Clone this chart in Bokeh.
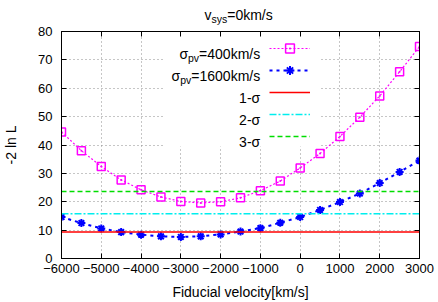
from bokeh.plotting import figure
from bokeh.layouts import column
from bokeh.models import (Range1d, LinearAxis, FixedTicker, Legend, LegendItem, Label,
                          BoxAnnotation, CustomJSTickFormatter, Div)
from bokeh.embed import file_html
from bokeh.resources import INLINE

# ---------------- data ----------------
velocity = [-6000, -5500, -5000, -4500, -4000, -3500, -3000, -2500, -2000, -1500,
            -1000, -500, 0, 500, 1000, 1500, 2000, 2500, 3000]
chi2_sigma400 = [44.6, 38.0, 32.4, 27.7, 24.2, 21.7, 20.1, 19.6, 20.0, 21.4,
                 23.9, 27.3, 31.9, 37.0, 43.0, 49.8, 57.3, 65.8, 74.7]
chi2_sigma1600 = [14.6, 12.5, 10.6, 9.3, 8.4, 7.8, 7.6, 7.8, 8.5, 9.5,
                  10.7, 12.6, 14.6, 17.1, 19.9, 22.9, 26.6, 30.5, 34.5]
sigma_levels = [9.3, 15.75, 23.6]
sigma_names = ["1-σ", "2-σ", "3-σ"]
x_ticks = [-6000, -5000, -4000, -3000, -2000, -1000, 0, 1000, 2000, 3000]
y_ticks = [0, 10, 20, 30, 40, 50, 60, 70, 80]
X_MIN, X_MAX = -6000, 3000
Y_MIN, Y_MAX = 0, 80

FONT = "Liberation Sans"
MAIN = 14
SUB = 10.5
# approximate Arial / Liberation Sans advance widths (em)
ADV = {"σ": 0.6, "p": 0.556, "v": 0.5, "s": 0.5, "y": 0.5, "=": 0.584, "k": 0.5,
       "m": 0.833, "/": 0.278, "-": 0.333}


def tw(text, size):
    return sum(ADV.get(c, 0.556) for c in text) * size


W = 438
TITLE_H = 24
MAIN_H = 302 - TITLE_H
TOP, LEFT, RIGHT = 7, 59, 19
FRAME_H = 227
BOTTOM = MAIN_H - TOP - FRAME_H

# ---------------- title (HTML text with a real subscript) ----------------
title_html = (
    f'<div style="margin:0;padding:6.5px 0 0 204.5px;font-family:\'{FONT}\';'
    f'font-size:{MAIN}px;line-height:17px;white-space:nowrap;color:black;">'
    f'v<sub style="font-size:{SUB}px;vertical-align:-3px;line-height:0;">sys</sub>'
    f'=0km/s</div>'
)
title = Div(text=title_html, width=W, height=TITLE_H, margin=0)

# ---------------- main plot ----------------
p = figure(width=W, height=MAIN_H, output_backend="svg", toolbar_location=None,
           title=None, x_range=Range1d(X_MIN, X_MAX), y_range=Range1d(Y_MIN, Y_MAX),
           min_border_left=LEFT, min_border_right=RIGHT, min_border_top=TOP,
           min_border_bottom=BOTTOM,
           x_axis_label="Fiducial velocity[km/s]", y_axis_label="-2 ln L")
p.background_fill_color = "white"
p.border_fill_color = "white"
p.outline_line_color = "black"
p.outline_line_width = 1

for ax, ticks in ((p.xaxis[0], x_ticks), (p.yaxis[0], y_ticks)):
    ax.ticker = FixedTicker(ticks=ticks)
    ax.minor_tick_line_color = None
    ax.major_tick_in = 5
    ax.major_tick_out = 0
    ax.axis_line_color = "black"
    ax.major_tick_line_color = "black"
    ax.major_label_text_font = FONT
    ax.major_label_text_font_size = "13px"
    ax.major_label_text_color = "black"
    ax.axis_label_text_font = FONT
    ax.axis_label_text_font_size = "14px"
    ax.axis_label_text_font_style = "normal"
    ax.axis_label_text_color = "black"
p.xaxis[0].major_label_standoff = 5
p.xaxis[0].axis_label_standoff = 8
p.yaxis[0].major_label_standoff = 9
p.yaxis[0].axis_label_standoff = 16

blank = CustomJSTickFormatter(code="return ''")
for ticks, place in ((x_ticks, "above"), (y_ticks, "right")):
    a = LinearAxis(ticker=FixedTicker(ticks=ticks), formatter=blank,
                   minor_tick_line_color=None, major_tick_in=5, major_tick_out=0,
                   major_label_standoff=0, axis_line_color="black",
                   major_label_text_font_size="1px")
    p.add_layout(a, place)

for g, ticks in ((p.xgrid[0], x_ticks), (p.ygrid[0], y_ticks)):
    g.ticker = FixedTicker(ticks=ticks)
    g.grid_line_color = "#8c8c8c"
    g.grid_line_dash = "1 3"
    g.grid_line_width = 1
    g.level = "image"

# opaque key box (hides grid behind the key)
key_box = BoxAnnotation(left=103, right=258, top=FRAME_H, bottom=FRAME_H - 115,
                        left_units="screen", right_units="screen",
                        top_units="screen", bottom_units="screen",
                        fill_color="white", fill_alpha=1.0, line_color=None,
                        level="underlay")
p.add_layout(key_box)

# ---------------- series ----------------
l400 = p.line(velocity, chi2_sigma400, line_color="#ff00ff", line_width=1.2, line_dash="2 2")
s400 = p.scatter(velocity, chi2_sigma400, marker="square_dot", size=8,
                 line_color="#ff00ff", line_width=1.5, fill_color=None)
l1600 = p.line(velocity, chi2_sigma1600, line_color="#0000ff", line_width=2, line_dash="3 4")
s1600 = p.scatter(velocity, chi2_sigma1600, marker="asterisk", size=8,
                  line_color="#0000ff", line_width=2)

sig_colors = ["#ff0000", "#00eeee", "#00dd00"]
sig_dash = ["solid", "7 2 2 2", "5 3"]
sig_renderers = []
for lev, col, dash in zip(sigma_levels, sig_colors, sig_dash):
    r = p.line([X_MIN, X_MAX], [lev, lev], line_color=col, line_width=1.5, line_dash=dash)
    sig_renderers.append(r)

# ---------------- key ----------------
ROW_H = 22
TOP_PAD = 5.7
items = [LegendItem(label=" ", renderers=[l400, s400]),
         LegendItem(label=" ", renderers=[l1600, s1600])]
items += [LegendItem(label=" ", renderers=[r]) for r in sig_renderers]
legend = Legend(items=items, location=(207.7, FRAME_H - TOP_PAD - ROW_H * len(items)),
                glyph_width=41, glyph_height=ROW_H, label_height=ROW_H, label_width=0,
                label_standoff=0, spacing=0, padding=0, margin=0,
                border_line_color=None, background_fill_alpha=0,
                label_text_font_size="1px")
p.add_layout(legend)

R = 198.7


def key_text(row, main_prefix, sub, main_rest):
    base = FRAME_H - (TOP_PAD + ROW_H * row + ROW_H / 2 + 5.5)
    x = R
    p.add_layout(Label(x=x, y=base, x_units="screen", y_units="screen", text=main_rest,
                       text_font=FONT, text_font_size=f"{MAIN}px", text_align="right",
                       text_baseline="alphabetic", text_color="black"))
    if sub:
        x -= tw(main_rest, MAIN)
        p.add_layout(Label(x=x, y=base - 4.5, x_units="screen", y_units="screen", text=sub,
                           text_font=FONT, text_font_size=f"{SUB}px", text_align="right",
                           text_baseline="alphabetic", text_color="black"))
        x -= tw(sub, SUB)
        p.add_layout(Label(x=x, y=base, x_units="screen", y_units="screen", text=main_prefix,
                           text_font=FONT, text_font_size=f"{MAIN}px", text_align="right",
                           text_baseline="alphabetic", text_color="black"))


key_text(0, "σ", "pv", "=400km/s")
key_text(1, "σ", "pv", "=1600km/s")
for i, name in enumerate(sigma_names):
    key_text(2 + i, None, None, name)

layout = column(title, p, spacing=0)
open("out.html", "w").write(file_html(layout, INLINE))
